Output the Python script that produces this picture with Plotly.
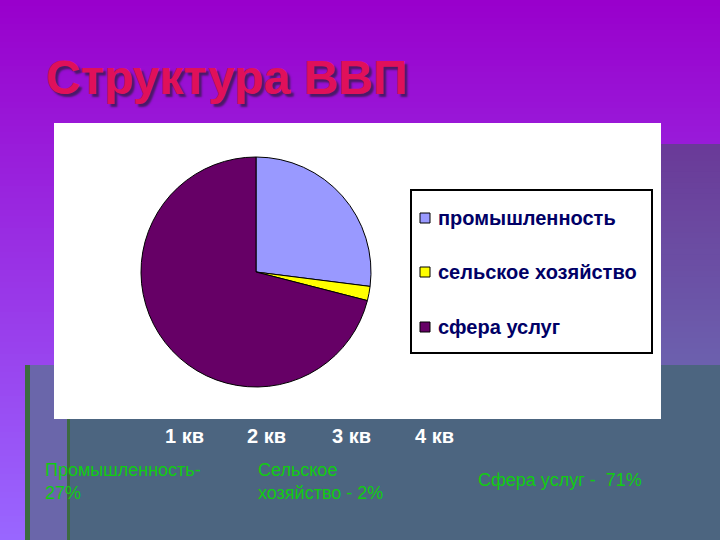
import plotly.graph_objects as go

# ---- data ----
sectors = ["промышленность", "сельское хозяйство", "сфера услуг"]
shares = [27, 2, 71]
colors = ["#9999ff", "#ffff00", "#660066"]
quarters = ["1 кв", "2 кв", "3 кв", "4 кв"]
notes = ["Промышленность-<br>27%", "Сельское<br>хозяйство - 2%", "Сфера услуг -  71%"]
title_text = "Структура ВВП"

W, H = 720, 540

def px(x):
    return x / W

def py(y):
    return 1 - y / H

def lerp(c1, c2, t):
    a = [int(c1[i:i + 2], 16) for i in (1, 3, 5)]
    b = [int(c2[i:i + 2], 16) for i in (1, 3, 5)]
    return "#" + "".join(f"{round(a[k] + (b[k] - a[k]) * t):02x}" for k in range(3))

shapes = []
# main purple gradient background
n = 90
for i in range(n):
    y0 = H * i / n
    y1 = H * (i + 1) / n + 1
    shapes.append(dict(type="rect", xref="paper", yref="paper", x0=0, x1=1,
                       y0=py(y1), y1=py(y0), line_width=0,
                       fillcolor=lerp("#9900cc", "#9966ff", i / (n - 1)), layer="below"))
# right panel gradient
m = 40
for i in range(m):
    y0 = 144 + (365 - 144) * i / m
    y1 = 144 + (365 - 144) * (i + 1) / m + 1
    shapes.append(dict(type="rect", xref="paper", yref="paper", x0=px(600), x1=1,
                       y0=py(y1), y1=py(y0), line_width=0,
                       fillcolor=lerp("#6a3a98", "#6c60ae", i / (m - 1)), layer="below"))
# left strip and slate area
shapes.append(dict(type="rect", xref="paper", yref="paper", x0=px(25), x1=px(70),
                   y0=0, y1=py(365), line_width=0, fillcolor="#6a66aa", layer="below"))
shapes.append(dict(type="rect", xref="paper", yref="paper", x0=px(67), x1=1,
                   y0=0, y1=py(365), line_width=0, fillcolor="#4c6580", layer="below"))
shapes.append(dict(type="rect", xref="paper", yref="paper", x0=px(25), x1=px(30),
                   y0=0, y1=py(365), line_width=0, fillcolor="#3d6a40", layer="below"))
shapes.append(dict(type="rect", xref="paper", yref="paper", x0=px(67), x1=px(70),
                   y0=0, y1=py(419), line_width=0, fillcolor="#3d6a40", layer="below"))
# white chart area
shapes.append(dict(type="rect", xref="paper", yref="paper", x0=px(54), x1=px(661),
                   y0=py(419), y1=py(123), line_width=0, fillcolor="#ffffff", layer="below"))
# legend box
shapes.append(dict(type="rect", xref="paper", yref="paper", x0=px(411), x1=px(652),
                   y0=py(353), y1=py(190), line=dict(color="#000000", width=2),
                   fillcolor="#ffffff", layer="below"))

annotations = []
leg_y = [218, 272, 327]
for lab, col, yy in zip(sectors, colors, leg_y):
    shapes.append(dict(type="rect", xref="paper", yref="paper", x0=px(420), x1=px(430),
                       y0=py(yy + 5), y1=py(yy - 5), line=dict(color="#000000", width=1),
                       fillcolor=col))
    annotations.append(dict(x=px(436), y=py(yy), xref="paper", yref="paper",
                            text=f"<b>{lab}</b>", showarrow=False, xanchor="left", yanchor="middle",
                            font=dict(family="Liberation Sans, Arial", size=20, color="#000066")))

# title with shadow
annotations.append(dict(x=px(44), y=py(78), xref="paper", yref="paper", text=f"<b>{title_text}</b>",
                        showarrow=False, xanchor="left", yanchor="middle",
                        font=dict(family="Liberation Sans, Arial", size=48, color="#e0105a",
                                  shadow="3px 3px 2px #4a1a68")))

# quarter labels
qx = [184, 266, 351, 434]
for q, x in zip(quarters, qx):
    annotations.append(dict(x=px(x), y=py(436), xref="paper", yref="paper", text=f"<b>{q}</b>",
                            showarrow=False, xanchor="center", yanchor="middle",
                            font=dict(family="Liberation Sans, Arial", size=20, color="#ffffff")))

# green notes
note_pos = [(43, 481), (256, 481), (476, 480)]
for t, (x, y) in zip(notes, note_pos):
    annotations.append(dict(x=px(x), y=py(y), xref="paper", yref="paper", text=t,
                            showarrow=False, xanchor="left", yanchor="middle", align="left",
                            font=dict(family="Liberation Sans, Arial", size=18, color="#11cc11")))

fig = go.Figure(go.Pie(
    labels=sectors, values=shares, sort=False, direction="clockwise", rotation=0,
    marker=dict(colors=colors, line=dict(color="#000000", width=1)),
    textinfo="none", showlegend=False,
    domain=dict(x=[px(141), px(371)], y=[py(387), py(157)]),
))

fig.update_layout(width=W, height=H, margin=dict(l=0, r=0, t=0, b=0),
                  paper_bgcolor="#9933e6", plot_bgcolor="rgba(0,0,0,0)",
                  shapes=shapes, annotations=annotations)

fig.write_html("out.html", config={"displayModeBar": False},
               post_script="document.body.style.margin='0';document.body.style.overflow='hidden';")
